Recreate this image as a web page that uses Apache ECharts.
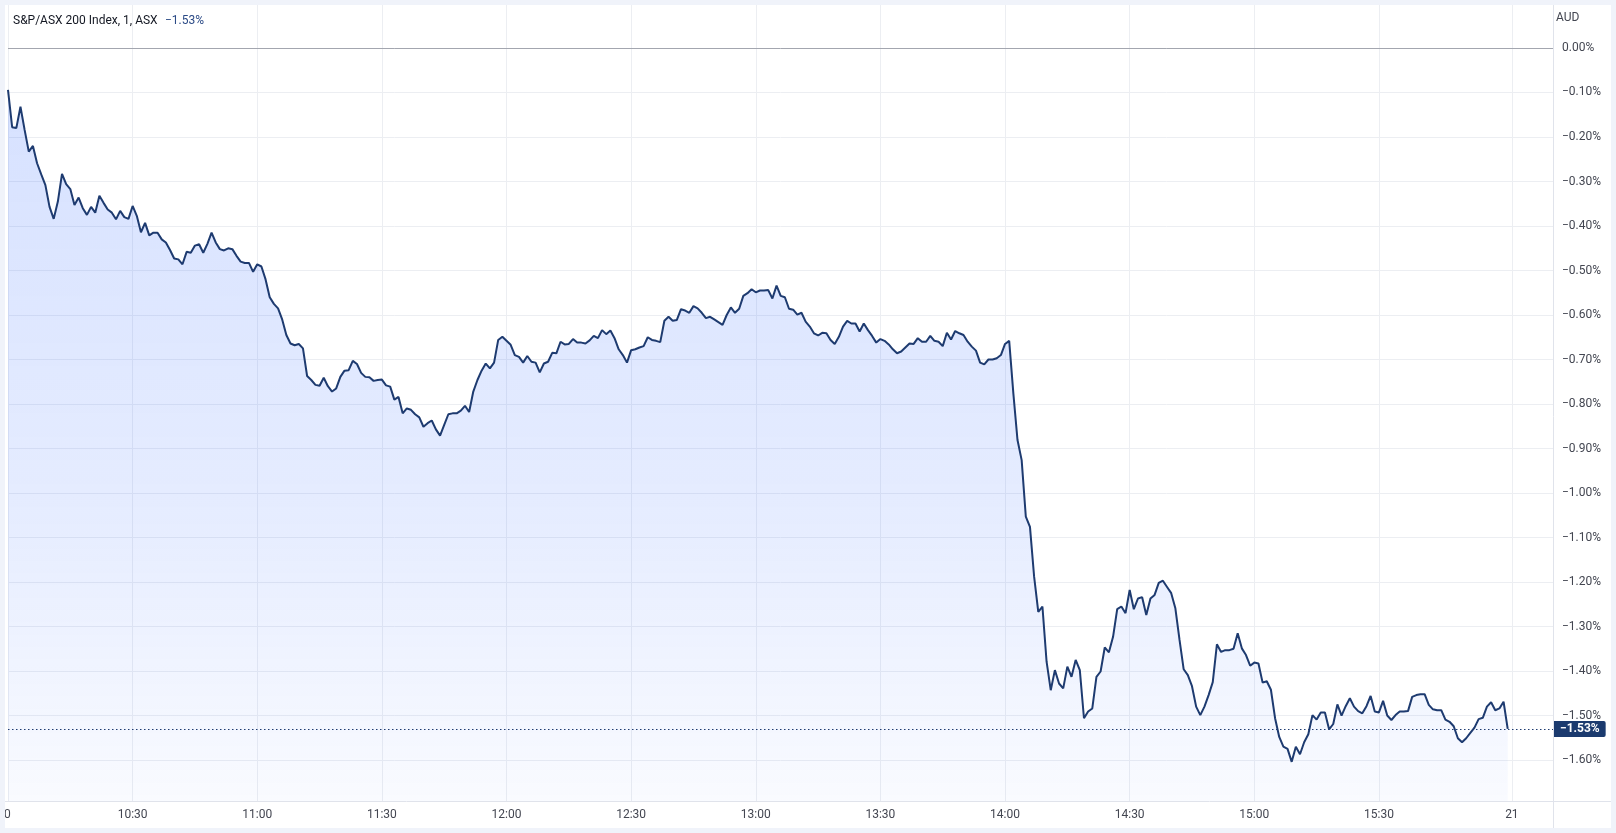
<!DOCTYPE html>
<html>
<head>
<meta charset="utf-8">
<title>S&P/ASX 200 Index</title>
<script src="https://cdn.jsdelivr.net/npm/echarts@6.0.0/dist/echarts.min.js"></script>
<style>
  html, body { margin: 0; padding: 0; background: #f0f3fa; }
  #chart { position: absolute; left: 5px; top: 5px; width: 1606px; height: 823px; background: #fff; }
</style>
</head>
<body>
<div id="chart"></div>
<script>
// % change vs previous close, one value per 1-minute bar, index 0 = 10:00
const pctChange = [
  -0.094, -0.178, -0.180, -0.132, -0.184, -0.233, -0.220, -0.259, -0.284, -0.308,
  -0.357, -0.384, -0.345, -0.283, -0.306, -0.317, -0.353, -0.336, -0.360, -0.375,
  -0.357, -0.370, -0.332, -0.348, -0.363, -0.370, -0.385, -0.366, -0.380, -0.384,
  -0.355, -0.377, -0.414, -0.393, -0.421, -0.415, -0.415, -0.430, -0.437, -0.454,
  -0.473, -0.475, -0.486, -0.458, -0.460, -0.444, -0.441, -0.460, -0.440, -0.415,
  -0.437, -0.452, -0.455, -0.450, -0.452, -0.467, -0.480, -0.483, -0.483, -0.503,
  -0.486, -0.491, -0.520, -0.560, -0.575, -0.585, -0.610, -0.645, -0.664, -0.668,
  -0.665, -0.675, -0.737, -0.746, -0.757, -0.759, -0.741, -0.760, -0.772, -0.765,
  -0.739, -0.725, -0.724, -0.703, -0.710, -0.730, -0.739, -0.740, -0.748, -0.746,
  -0.745, -0.758, -0.761, -0.790, -0.784, -0.821, -0.810, -0.813, -0.823, -0.830,
  -0.851, -0.843, -0.837, -0.857, -0.871, -0.847, -0.823, -0.821, -0.821, -0.815,
  -0.804, -0.818, -0.772, -0.746, -0.725, -0.709, -0.720, -0.707, -0.656, -0.649,
  -0.658, -0.667, -0.690, -0.694, -0.707, -0.692, -0.705, -0.707, -0.729, -0.709,
  -0.705, -0.685, -0.686, -0.660, -0.666, -0.665, -0.654, -0.662, -0.662, -0.664,
  -0.657, -0.647, -0.652, -0.634, -0.643, -0.635, -0.652, -0.677, -0.690, -0.707,
  -0.679, -0.677, -0.673, -0.670, -0.650, -0.656, -0.658, -0.661, -0.613, -0.604,
  -0.613, -0.611, -0.587, -0.590, -0.595, -0.580, -0.585, -0.595, -0.607, -0.604,
  -0.610, -0.616, -0.622, -0.600, -0.583, -0.595, -0.586, -0.557, -0.551, -0.542,
  -0.549, -0.545, -0.545, -0.544, -0.563, -0.534, -0.557, -0.560, -0.586, -0.588,
  -0.599, -0.595, -0.615, -0.626, -0.641, -0.646, -0.640, -0.641, -0.656, -0.665,
  -0.649, -0.626, -0.613, -0.619, -0.619, -0.637, -0.619, -0.634, -0.647, -0.662,
  -0.654, -0.658, -0.666, -0.677, -0.686, -0.682, -0.673, -0.664, -0.665, -0.652,
  -0.660, -0.660, -0.647, -0.658, -0.660, -0.670, -0.640, -0.655, -0.636, -0.641,
  -0.645, -0.660, -0.671, -0.680, -0.707, -0.711, -0.700, -0.700, -0.697, -0.690,
  -0.665, -0.658, -0.776, -0.881, -0.926, -1.053, -1.076, -1.188, -1.267, -1.255,
  -1.379, -1.443, -1.398, -1.428, -1.439, -1.390, -1.413, -1.375, -1.398, -1.506,
  -1.491, -1.484, -1.413, -1.401, -1.347, -1.358, -1.323, -1.261, -1.255, -1.270,
  -1.218, -1.261, -1.237, -1.234, -1.274, -1.237, -1.229, -1.202, -1.197, -1.211,
  -1.225, -1.259, -1.330, -1.396, -1.409, -1.434, -1.480, -1.499, -1.480, -1.454,
  -1.425, -1.340, -1.357, -1.353, -1.353, -1.350, -1.315, -1.349, -1.364, -1.388,
  -1.381, -1.383, -1.426, -1.423, -1.442, -1.506, -1.548, -1.570, -1.575, -1.604,
  -1.570, -1.587, -1.560, -1.542, -1.499, -1.509, -1.493, -1.493, -1.531, -1.519,
  -1.475, -1.500, -1.479, -1.461, -1.480, -1.490, -1.495, -1.479, -1.456, -1.491,
  -1.493, -1.467, -1.500, -1.510, -1.499, -1.491, -1.491, -1.490, -1.458, -1.454,
  -1.452, -1.452, -1.476, -1.486, -1.488, -1.488, -1.509, -1.514, -1.524, -1.551,
  -1.560, -1.551, -1.539, -1.527, -1.508, -1.505, -1.480, -1.470, -1.488, -1.484,
  -1.469, -1.530
]
const lastValue = -1.53

// time axis: bar index (minutes from 10:00) and its label
const xTickMinutes = [0, 30, 60, 90, 120, 150, 180, 210, 240, 270, 300, 330, 362]
const xTickLabels = ['20', '10:30', '11:00', '11:30', '12:00', '12:30', '13:00',
  '13:30', '14:00', '14:30', '15:00', '15:30', '21']

const yTicks = [-1.6, -1.5, -1.4, -1.3, -1.2, -1.1, -1.0, -0.9, -0.8, -0.7,
  -0.6, -0.5, -0.4, -0.3, -0.2, -0.1, 0]

const lineColor = '#1e3b70'
const gridColor = '#eceef2'
const sepColor = '#e0e3eb'
const textColor = '#434651'
const font = 'Roboto, "Liberation Sans", sans-serif'

const fmtPct = (v) => {
  if (Math.abs(v) < 1e-9) return '0.00%'
  return (v < 0 ? '\u2212' : '') + Math.abs(v).toFixed(2) + '%'
}

const chart = echarts.init(document.getElementById('chart'))

chart.setOption({
  animation: false,
  textStyle: { fontFamily: font },
  grid: { left: 1, right: 58, top: 0, bottom: 27 },
  xAxis: {
    type: 'value',
    min: 0,
    max: 371.9,
    axisLine: { show: false },
    axisTick: { show: false, customValues: xTickMinutes },
    splitLine: { show: true, lineStyle: { color: gridColor, width: 1 } },
    axisLabel: {
      customValues: xTickMinutes,
      margin: 8,
      fontSize: 12,
      color: textColor,
      fontFamily: font,
      formatter: (v) => {
        const i = xTickMinutes.indexOf(Math.round(v))
        // the session-start day label is drawn separately so it can be clipped at the pane edge
        return i > 0 ? xTickLabels[i] : ''
      }
    }
  },
  yAxis: {
    type: 'value',
    position: 'right',
    min: -1.692,
    max: 0.0966,
    axisLine: { show: false },
    axisTick: { show: false, customValues: yTicks },
    splitLine: { show: true, lineStyle: { color: gridColor, width: 1 } },
    axisLabel: {
      customValues: yTicks,
      margin: 9,
      fontSize: 12,
      color: textColor,
      fontFamily: font,
      formatter: fmtPct
    }
  },
  graphic: [
    // pane separators
    { type: 'line', silent: true, shape: { x1: 1548.5, y1: 0, x2: 1548.5, y2: 823 }, style: { stroke: sepColor, lineWidth: 1 } },
    { type: 'line', silent: true, shape: { x1: 0, y1: 796.5, x2: 1606, y2: 796.5 }, style: { stroke: sepColor, lineWidth: 1 } },
    { type: 'text', silent: true, x: -1, y: 810, style: { text: xTickLabels[0], font: '12px ' + font, fill: textColor, align: 'center', verticalAlign: 'middle' } },
    { type: 'text', silent: true, x: 8, y: 16, style: { text: 'S&P/ASX 200 Index, 1, ASX', font: '12px ' + font, fill: '#131722', verticalAlign: 'middle' } },
    { type: 'text', silent: true, x: 160, y: 16, style: { text: fmtPct(lastValue), font: '12px ' + font, fill: '#2b4a86', verticalAlign: 'middle' } },
    { type: 'text', silent: true, x: 1551, y: 13, style: { text: 'AUD', font: '12px ' + font, fill: textColor, verticalAlign: 'middle' } }
  ],
  series: [
    {
      type: 'line',
      data: pctChange.map((v, i) => [i, v]),
      showSymbol: false,
      silent: true,
      lineStyle: { color: lineColor, width: 2 },
      areaStyle: {
        origin: 'start',
        color: new echarts.graphic.LinearGradient(0, 0, 0, 1, [
          { offset: 0, color: 'rgba(41, 98, 255, 0.27)' },
          { offset: 0.6, color: 'rgba(41, 98, 255, 0.17)' },
          { offset: 1, color: 'rgba(41, 98, 255, 0.04)' }
        ])
      },
      markLine: {
        silent: true,
        symbol: ['none', 'none'],
        data: [
          {
            yAxis: 0,
            lineStyle: { color: '#a3a6af', type: 'solid', width: 1 },
            label: { show: false }
          },
          {
            yAxis: lastValue,
            lineStyle: { color: lineColor, type: [1.5, 2.5], width: 1 },
            label: {
              show: true,
              position: 'end',
              distance: 1,
              formatter: () => fmtPct(lastValue),
              color: '#fff',
              fontWeight: 'bold',
              fontSize: 12,
              fontFamily: font,
              backgroundColor: '#1b3a6e',
              padding: [2, 6, 2, 6],
              borderRadius: [0, 2, 2, 0]
            }
          }
        ]
      }
    }
  ]
})

window.addEventListener('resize', () => chart.resize())
</script>
</body>
</html>
